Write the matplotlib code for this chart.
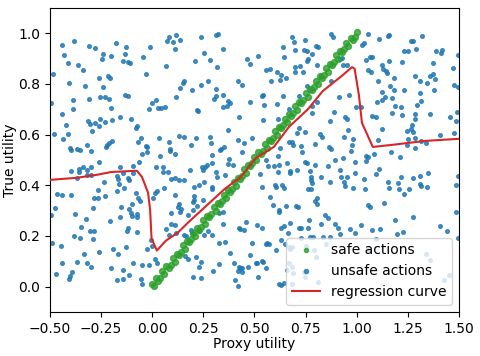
import numpy as np
import matplotlib
matplotlib.use("Agg")
import matplotlib.pyplot as plt
from matplotlib.lines import Line2D

# safe actions (green band along the diagonal)
safe_x = [0.00, 0.01, 0.02, 0.03, 0.04, 0.05, 0.06, 0.07, 0.08, 0.09,
          0.10, 0.11, 0.12, 0.13, 0.14, 0.15, 0.16, 0.17, 0.18, 0.19,
          0.20, 0.21, 0.22, 0.23, 0.24, 0.25, 0.26, 0.27, 0.28, 0.29,
          0.30, 0.31, 0.32, 0.33, 0.34, 0.35, 0.36, 0.37, 0.38, 0.39,
          0.40, 0.41, 0.42, 0.43, 0.44, 0.45, 0.46, 0.47, 0.48, 0.49,
          0.50, 0.51, 0.52, 0.53, 0.54, 0.55, 0.56, 0.57, 0.58, 0.59,
          0.60, 0.61, 0.62, 0.63, 0.64, 0.65, 0.66, 0.67, 0.68, 0.69,
          0.70, 0.71, 0.72, 0.73, 0.74, 0.75, 0.76, 0.77, 0.78, 0.79,
          0.80, 0.81, 0.82, 0.83, 0.84, 0.85, 0.86, 0.87, 0.88, 0.89,
          0.90, 0.91, 0.92, 0.93, 0.94, 0.95, 0.96, 0.97, 0.98, 0.99, 1.00]
safe_y = [0.008, 0.004, 0.032, 0.020, 0.034, 0.062, 0.048, 0.080, 0.074, 0.086,
          0.112, 0.098, 0.130, 0.124, 0.136, 0.162, 0.148, 0.180, 0.174, 0.186,
          0.212, 0.198, 0.230, 0.224, 0.236, 0.262, 0.248, 0.280, 0.274, 0.286,
          0.312, 0.298, 0.330, 0.324, 0.336, 0.362, 0.348, 0.380, 0.374, 0.386,
          0.412, 0.398, 0.430, 0.424, 0.436, 0.462, 0.448, 0.480, 0.474, 0.486,
          0.512, 0.498, 0.530, 0.524, 0.536, 0.562, 0.548, 0.580, 0.574, 0.586,
          0.612, 0.598, 0.630, 0.624, 0.636, 0.662, 0.648, 0.680, 0.674, 0.686,
          0.712, 0.698, 0.730, 0.724, 0.736, 0.762, 0.748, 0.780, 0.774, 0.786,
          0.812, 0.798, 0.830, 0.824, 0.836, 0.862, 0.848, 0.880, 0.874, 0.886,
          0.912, 0.898, 0.930, 0.924, 0.936, 0.962, 0.948, 0.980, 0.974, 0.986, 1.004]

# unsafe actions (x, y)
unsafe_pts = [
    (-0.443, 0.954), (-0.383, 0.970), (-0.308, 0.950), (-0.278, 0.940), (-0.177, 0.961), (-0.128, 0.944),
    (-0.013, 0.945), (-0.432, 0.915), (-0.239, 0.917), (-0.135, 0.917), (-0.200, 0.911), (-0.246, 0.898),
    (-0.044, 0.907), (-0.410, 0.882), (-0.365, 0.874), (-0.143, 0.892), (-0.117, 0.888), (-0.106, 0.883),
    (-0.340, 0.854), (-0.484, 0.839), (-0.259, 0.825), (-0.215, 0.832), (-0.205, 0.824), (-0.032, 0.839),
    (-0.405, 0.804), (-0.330, 0.791), (-0.238, 0.786), (-0.495, 0.726), (-0.386, 0.738), (-0.309, 0.740),
    (-0.256, 0.747), (-0.233, 0.747), (-0.211, 0.741), (-0.132, 0.757), (-0.117, 0.753), (0.000, 0.724),
    (-0.389, 0.701), (-0.202, 0.706), (-0.014, 0.702),
    (0.080, 0.984), (0.119, 0.993), (0.074, 0.970), (0.100, 0.966), (0.136, 0.975), (0.238, 0.986),
    (0.313, 0.993), (0.322, 0.996), (0.111, 0.937), (0.255, 0.923), (0.348, 0.938), (0.211, 0.891),
    (0.284, 0.894), (0.070, 0.869), (0.318, 0.867), (0.462, 0.898), (0.478, 0.877), (0.155, 0.810),
    (0.149, 0.804), (0.273, 0.812), (0.137, 0.785), (0.240, 0.796), (0.421, 0.812), (0.441, 0.797),
    (0.196, 0.774), (0.313, 0.780), (0.118, 0.749), (0.344, 0.756), (0.312, 0.751), (0.300, 0.739),
    (0.370, 0.734), (0.380, 0.726), (0.480, 0.728), (0.018, 0.735), (0.031, 0.705), (0.041, 0.705),
    (0.061, 0.707), (0.220, 0.698), (0.348, 0.710), (0.366, 0.714),
    (0.683, 0.984), (0.749, 0.972), (0.696, 0.967), (0.876, 0.995), (0.882, 0.986), (0.641, 0.945),
    (0.700, 0.934), (0.744, 0.932), (0.758, 0.928), (0.801, 0.951), (0.812, 0.945), (0.517, 0.908),
    (0.646, 0.906), (0.784, 0.916), (0.763, 0.899), (0.758, 0.891), (0.918, 0.899), (0.929, 0.902),
    (0.555, 0.853), (0.577, 0.858), (0.612, 0.845), (0.700, 0.867), (0.724, 0.869), (0.804, 0.873),
    (0.934, 0.875), (0.954, 0.875), (0.700, 0.846), (0.740, 0.845), (0.631, 0.833), (0.654, 0.825),
    (0.581, 0.812), (0.625, 0.815), (0.825, 0.829), (0.874, 0.811), (0.755, 0.790), (0.540, 0.757),
    (0.535, 0.753), (0.641, 0.753), (0.716, 0.753), (0.915, 0.749), (0.965, 0.755), (0.804, 0.728),
    (0.546, 0.715), (0.612, 0.719), (0.780, 0.713), (0.995, 0.709), (0.670, 0.699),
    (1.055, 0.997), (1.027, 0.954), (1.037, 0.962), (1.109, 0.978), (1.153, 0.987), (1.159, 0.993),
    (1.321, 0.988), (1.267, 0.970), (1.277, 0.970), (1.233, 0.928), (1.249, 0.928), (1.288, 0.937),
    (1.388, 0.929), (1.417, 0.934), (1.414, 0.920), (1.497, 0.915), (1.044, 0.894), (1.063, 0.907),
    (1.073, 0.904), (1.156, 0.891), (1.220, 0.885), (1.373, 0.882), (1.472, 0.861), (1.055, 0.856),
    (1.068, 0.848), (1.122, 0.873), (1.130, 0.860), (1.145, 0.849), (1.150, 0.843), (1.182, 0.825),
    (1.285, 0.831), (1.360, 0.829), (1.375, 0.839), (1.383, 0.818), (1.308, 0.810), (1.344, 0.803),
    (1.104, 0.812), (1.163, 0.790), (1.181, 0.777), (1.233, 0.777), (1.477, 0.795), (1.495, 0.789),
    (1.379, 0.777), (1.125, 0.768), (1.138, 0.749), (1.174, 0.743), (1.309, 0.765), (1.314, 0.731),
    (1.296, 0.717), (1.102, 0.727), (1.125, 0.736), (1.190, 0.714), (1.215, 0.709), (1.019, 0.707),
    (-0.440, 0.682), (-0.422, 0.638), (-0.478, 0.603), (-0.410, 0.601), (-0.435, 0.581), (-0.316, 0.654),
    (-0.304, 0.643), (-0.278, 0.647), (-0.254, 0.660), (-0.231, 0.651), (-0.259, 0.635), (-0.194, 0.657),
    (-0.159, 0.669), (-0.102, 0.660), (-0.075, 0.635), (-0.081, 0.625), (-0.295, 0.614), (-0.057, 0.585),
    (-0.071, 0.570), (-0.031, 0.556), (-0.026, 0.551), (-0.319, 0.560), (-0.197, 0.576), (-0.210, 0.568),
    (-0.220, 0.559), (-0.226, 0.552), (-0.404, 0.547), (-0.399, 0.539), (-0.370, 0.542), (-0.352, 0.538),
    (-0.298, 0.534), (-0.024, 0.531), (-0.048, 0.525), (-0.259, 0.490), (-0.066, 0.493), (-0.096, 0.476),
    (-0.158, 0.471), (-0.339, 0.470), (-0.360, 0.463), (-0.396, 0.455), (-0.358, 0.453), (-0.319, 0.461),
    (-0.300, 0.471), (-0.300, 0.442), (-0.321, 0.442), (-0.368, 0.427), (-0.145, 0.448), (-0.096, 0.450),
    (-0.172, 0.437), (-0.167, 0.425), (-0.120, 0.430), (-0.112, 0.419), (-0.236, 0.411), (-0.161, 0.406),
    (-0.140, 0.387), (-0.264, 0.379), (-0.171, 0.378), (-0.467, 0.367), (-0.443, 0.362), (-0.399, 0.360),
    (-0.283, 0.350), (-0.265, 0.349), (-0.231, 0.358), (-0.079, 0.369), (-0.071, 0.348), (-0.060, 0.336),
    (-0.097, 0.325), (-0.154, 0.312), (-0.114, 0.307), (-0.288, 0.310), (-0.477, 0.311),
    (0.222, 0.694), (0.424, 0.668), (0.035, 0.588), (0.129, 0.593), (0.155, 0.589), (0.212, 0.585),
    (0.284, 0.592), (0.080, 0.572), (0.190, 0.560), (0.286, 0.568), (0.370, 0.618), (0.419, 0.577),
    (0.450, 0.567), (0.488, 0.588), (0.085, 0.543), (0.088, 0.535), (0.113, 0.522), (0.038, 0.514),
    (0.331, 0.537), (0.339, 0.542), (0.351, 0.550), (0.437, 0.531), (0.291, 0.521), (0.377, 0.505),
    (0.018, 0.472), (0.051, 0.470), (0.051, 0.453), (0.079, 0.451), (0.183, 0.461), (0.247, 0.459),
    (0.243, 0.470), (0.260, 0.471), (0.269, 0.480), (0.292, 0.489), (0.372, 0.483), (0.393, 0.478),
    (0.312, 0.453), (0.315, 0.434), (0.354, 0.440), (0.093, 0.424), (0.113, 0.429), (0.132, 0.421),
    (0.154, 0.420), (0.255, 0.412), (0.057, 0.388), (0.206, 0.391), (0.230, 0.399), (0.294, 0.394),
    (0.292, 0.386), (0.022, 0.377), (0.012, 0.369), (0.004, 0.349), (0.110, 0.362), (0.207, 0.358),
    (0.204, 0.343), (0.199, 0.335), (0.247, 0.341), (0.129, 0.325), (0.124, 0.312), (0.139, 0.306),
    (0.198, 0.304), (0.217, 0.319),
    (0.781, 0.684), (0.890, 0.690), (0.944, 0.671), (0.952, 0.660), (0.871, 0.655), (0.543, 0.657),
    (0.615, 0.660), (0.718, 0.625), (0.749, 0.608), (0.708, 0.604), (0.820, 0.601), (0.830, 0.592),
    (0.956, 0.618), (0.983, 0.584), (0.936, 0.589), (0.670, 0.570), (0.683, 0.570), (0.690, 0.560),
    (0.726, 0.555), (0.796, 0.562), (0.866, 0.550), (0.876, 0.543), (0.978, 0.560), (0.972, 0.535),
    (0.626, 0.545), (0.732, 0.529), (0.613, 0.517), (0.556, 0.499), (0.894, 0.499), (0.931, 0.509),
    (0.747, 0.492), (0.757, 0.488), (0.661, 0.487), (0.595, 0.476), (0.618, 0.479), (0.566, 0.474),
    (0.794, 0.478), (0.861, 0.476), (0.993, 0.490), (0.617, 0.453), (0.674, 0.457), (0.675, 0.448),
    (0.709, 0.459), (0.773, 0.454), (0.918, 0.461), (0.527, 0.444), (0.990, 0.448), (0.776, 0.434),
    (0.825, 0.434), (0.775, 0.421), (0.871, 0.413), (0.925, 0.432), (0.952, 0.434), (0.781, 0.409),
    (0.599, 0.400), (0.605, 0.394), (0.634, 0.402), (0.644, 0.387), (0.936, 0.413), (0.944, 0.395),
    (0.983, 0.388), (0.762, 0.384), (0.778, 0.384), (0.538, 0.394), (0.574, 0.353), (0.807, 0.350),
    (0.796, 0.337), (0.807, 0.325), (0.701, 0.316), (0.713, 0.314), (0.590, 0.322), (0.656, 0.316),
    (0.621, 0.301),
    (1.073, 0.675), (1.096, 0.668), (1.174, 0.686), (1.220, 0.677), (1.283, 0.681), (1.287, 0.661),
    (1.357, 0.682), (1.458, 0.668), (1.485, 0.655), (1.492, 0.690), (1.122, 0.623), (1.247, 0.612),
    (1.264, 0.622), (1.272, 0.636), (1.278, 0.608), (1.283, 0.587), (1.252, 0.581), (1.410, 0.600),
    (1.476, 0.605), (1.314, 0.575), (1.340, 0.568), (1.244, 0.558), (1.285, 0.547), (1.106, 0.579),
    (1.084, 0.522), (1.166, 0.530), (1.210, 0.513), (1.047, 0.514), (1.057, 0.510), (1.047, 0.497),
    (1.110, 0.463), (1.093, 0.445), (1.035, 0.423), (1.215, 0.432), (1.275, 0.430), (1.311, 0.437),
    (1.347, 0.450), (1.495, 0.438), (1.151, 0.411), (1.200, 0.408), (1.159, 0.387), (1.208, 0.386),
    (1.257, 0.386), (1.309, 0.406), (1.313, 0.398), (1.342, 0.394), (1.039, 0.383), (1.234, 0.364),
    (1.485, 0.402), (1.133, 0.331), (1.058, 0.320), (1.063, 0.314),
    (-0.493, 0.282), (-0.378, 0.286), (-0.324, 0.265), (-0.207, 0.260), (-0.156, 0.276), (-0.104, 0.290),
    (-0.099, 0.280), (-0.076, 0.287), (-0.073, 0.276), (-0.350, 0.234), (-0.383, 0.201), (-0.355, 0.192),
    (-0.306, 0.219), (-0.283, 0.220), (-0.291, 0.189), (-0.117, 0.232), (-0.125, 0.220), (-0.073, 0.214),
    (-0.490, 0.173), (-0.448, 0.159), (-0.332, 0.130), (-0.259, 0.135), (-0.190, 0.147), (-0.167, 0.130),
    (-0.128, 0.155), (-0.027, 0.148), (-0.008, 0.184), (0.000, 0.161), (-0.441, 0.094), (-0.366, 0.097),
    (-0.321, 0.092), (-0.300, 0.077), (-0.096, 0.094), (-0.048, 0.083), (-0.016, 0.085), (-0.200, 0.072),
    (-0.145, 0.064), (-0.114, 0.047), (-0.394, 0.056), (-0.402, 0.042), (-0.409, 0.030), (-0.472, 0.051),
    (-0.172, 0.025), (-0.143, 0.030), (-0.057, 0.029), (-0.052, 0.008),
    (0.090, 0.291), (0.137, 0.293), (0.175, 0.281), (0.325, 0.291), (0.348, 0.293), (0.070, 0.226),
    (0.113, 0.243), (0.092, 0.245), (0.082, 0.203), (0.115, 0.213), (0.155, 0.203), (0.167, 0.199),
    (0.188, 0.223), (0.196, 0.213), (0.273, 0.220), (0.294, 0.202), (0.253, 0.203), (0.229, 0.220),
    (0.346, 0.247), (0.423, 0.231), (0.431, 0.226), (0.449, 0.222), (0.458, 0.253), (0.328, 0.172),
    (0.354, 0.176), (0.380, 0.134), (0.486, 0.171), (0.480, 0.123), (0.013, 0.110), (0.026, 0.094),
    (0.159, 0.121), (0.173, 0.109), (0.212, 0.117), (0.237, 0.097), (0.227, 0.076), (0.328, 0.088),
    (0.299, 0.062), (0.401, 0.094), (0.423, 0.079), (0.431, 0.075), (0.439, 0.075), (0.421, 0.063),
    (0.440, 0.056), (0.468, 0.076), (0.199, 0.039), (0.238, 0.034), (0.403, 0.024), (0.421, 0.003),
    (0.506, 0.092),
    (0.618, 0.293), (0.846, 0.282), (0.858, 0.269), (0.512, 0.243), (0.537, 0.232), (0.631, 0.232),
    (0.644, 0.239), (0.675, 0.252), (0.718, 0.232), (0.726, 0.232), (0.760, 0.232), (0.768, 0.261),
    (0.827, 0.248), (0.895, 0.245), (0.907, 0.232), (0.967, 0.226), (0.993, 0.213), (0.921, 0.206),
    (0.665, 0.210), (0.726, 0.190), (0.771, 0.197), (0.789, 0.197), (0.835, 0.194), (0.868, 0.194),
    (0.555, 0.168), (0.564, 0.173), (0.573, 0.167), (0.630, 0.182), (0.648, 0.168), (0.672, 0.150),
    (0.670, 0.157), (0.683, 0.156), (0.750, 0.159), (0.793, 0.146), (0.851, 0.168), (0.608, 0.144),
    (0.535, 0.102), (0.543, 0.098), (0.515, 0.092), (0.556, 0.075), (0.669, 0.094), (0.682, 0.076),
    (0.657, 0.064), (0.687, 0.054), (0.745, 0.059), (0.749, 0.038), (0.517, 0.037), (0.620, 0.010),
    (0.631, 0.007), (0.644, 0.013), (0.683, 0.009), (0.801, 0.115), (0.809, 0.017),
    (1.187, 0.264), (1.275, 0.274), (1.022, 0.243), (1.073, 0.223), (1.115, 0.228), (1.096, 0.189),
    (1.197, 0.206), (1.225, 0.216), (1.409, 0.237), (1.440, 0.220), (1.497, 0.192), (1.057, 0.150),
    (1.340, 0.129), (1.361, 0.106), (1.451, 0.047), (1.427, 0.024), (1.484, 0.293),
]
unsafe = np.array(unsafe_pts)

# regression curve
reg_x = [-0.5, -0.37, -0.27, -0.2, -0.075, -0.05, -0.02, -0.01, -0.003, 0.023, 0.067, 0.126, 0.175,
         0.233, 0.356, 0.434, 0.507, 0.595, 0.669, 0.762, 0.835, 0.933, 0.977, 0.99, 1.011, 1.026,
         1.079, 1.172, 1.339, 1.5]
reg_y = [0.421, 0.429, 0.441, 0.452, 0.457, 0.433, 0.370, 0.303, 0.19, 0.142, 0.181, 0.213, 0.252,
         0.295, 0.386, 0.433, 0.507, 0.551, 0.630, 0.700, 0.772, 0.835, 0.866, 0.86, 0.756, 0.646,
         0.551, 0.559, 0.575, 0.583]

fig = plt.figure(figsize=(4.8, 3.56), dpi=100)
ax = fig.add_axes([0.104, 0.124, 0.852, 0.854])

ax.scatter(safe_x, safe_y, s=18, color='tab:green', alpha=0.8, zorder=3)
ax.scatter(unsafe[:, 0], unsafe[:, 1], s=7, color='tab:blue', alpha=0.8, zorder=2)
ax.plot(reg_x, reg_y, color='tab:red', lw=1.5, zorder=4)

ax.set_xlim(-0.5, 1.5)
ax.set_ylim(-0.1, 1.1)
ax.set_xlabel('Proxy utility', labelpad=1)
ax.set_ylabel('True utility', labelpad=1)

# legend with small dots like the original
handles = [
    Line2D([], [], ls='none', marker='o', ms=3, color='tab:green', alpha=0.8),
    Line2D([], [], ls='none', marker='o', ms=3, color='tab:blue', alpha=0.8),
    Line2D([], [], color='tab:red', lw=1.5),
]
ax.legend(handles, ['safe actions', 'unsafe actions', 'regression curve'], loc='lower right')

fig.savefig('out.png', dpi=100)
